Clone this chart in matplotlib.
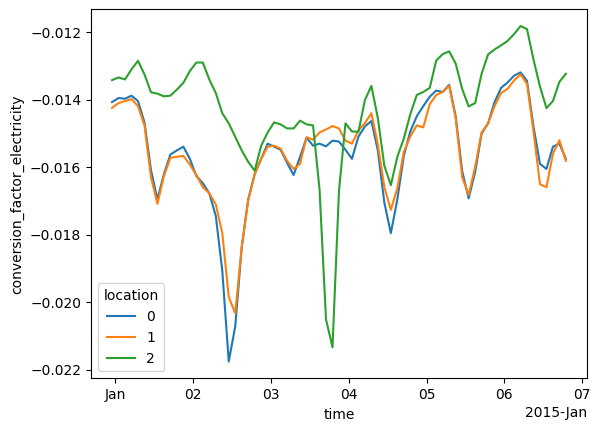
import numpy as np
import pandas as pd
import matplotlib
matplotlib.use("Agg")
import matplotlib.pyplot as plt
import matplotlib.dates as mdates

# time axis: 2-hourly samples
times = pd.date_range("2014-12-31 23:00", periods=71, freq="2h")
locations = [0, 1, 2]

# values in units of 1e-3
loc0 = [-14.07, -13.95, -13.97, -13.88, -14.04, -14.67, -16.08, -16.95, -16.20, -15.62,
        -15.50, -15.39, -15.75, -16.26, -16.47, -16.77, -17.44, -19.06, -21.75, -20.71,
        -18.36, -16.95, -16.20, -15.75, -15.30, -15.39, -15.48, -15.87, -16.23, -15.69,
        -15.12, -15.36, -15.30, -15.38, -15.21, -15.24, -15.48, -15.75, -15.09, -14.79,
        -14.63, -15.51, -17.05, -17.95, -16.95, -15.66, -14.94, -14.49, -14.19, -13.91,
        -13.73, -13.77, -13.56, -14.49, -16.11, -16.92, -16.14, -15.00, -14.70, -14.07,
        -13.65, -13.49, -13.29, -13.19, -13.44, -14.79, -15.90, -16.05, -15.39, -15.30,
        -15.75]
loc1 = [-14.24, -14.10, -14.04, -13.98, -14.19, -14.76, -16.29, -17.08, -16.26, -15.72,
        -15.69, -15.66, -15.92, -16.23, -16.59, -16.77, -17.10, -17.95, -19.84, -20.32,
        -18.37, -16.98, -16.20, -15.75, -15.39, -15.36, -15.45, -15.81, -16.05, -15.90,
        -15.11, -15.18, -14.97, -14.88, -14.78, -14.85, -15.21, -15.30, -14.91, -14.69,
        -14.40, -15.33, -16.59, -17.26, -16.62, -15.54, -15.09, -14.76, -14.82, -14.13,
        -13.86, -13.77, -13.59, -14.55, -16.29, -16.82, -15.99, -14.97, -14.70, -14.19,
        -13.80, -13.68, -13.43, -13.25, -13.53, -14.94, -16.50, -16.59, -15.60, -15.20,
        -15.81]
loc2 = [-13.42, -13.34, -13.40, -13.10, -12.85, -13.25, -13.78, -13.82, -13.90, -13.88,
        -13.70, -13.50, -13.15, -12.90, -12.90, -13.40, -13.80, -14.40, -14.70, -15.10,
        -15.50, -15.84, -16.10, -15.36, -14.97, -14.67, -14.73, -14.85, -14.85, -14.62,
        -14.73, -14.76, -16.65, -20.50, -21.33, -16.70, -14.70, -14.94, -14.95, -14.01,
        -13.59, -14.55, -15.96, -16.53, -15.69, -15.15, -14.43, -13.86, -13.77, -13.65,
        -12.84, -12.65, -12.57, -12.93, -13.68, -14.20, -14.10, -13.23, -12.66, -12.51,
        -12.39, -12.26, -12.06, -11.82, -11.91, -12.81, -13.61, -14.25, -14.04, -13.47,
        -13.23]

series = [loc0, loc1, loc2]

fig = plt.figure(figsize=(6.01, 4.32), dpi=100)
ax = fig.add_axes([91 / 601, 53.7 / 432, 495.7 / 601, 369 / 432])

for loc, vals in zip(locations, series):
    ax.plot(times, np.array(vals) * 1e-3, label=str(loc))

locator = mdates.AutoDateLocator()
ax.xaxis.set_major_locator(locator)
ax.xaxis.set_major_formatter(mdates.ConciseDateFormatter(locator))

t0 = pd.Timestamp("2015-01-01")
ax.set_xlim(t0 - pd.Timedelta(days=0.3123), t0 + pd.Timedelta(days=6.059))

ax.set_xlabel("time")
ax.set_ylabel("conversion_factor_electricity")
ax.legend(title="location", loc="lower left")

fig.savefig("out.png", dpi=100)
